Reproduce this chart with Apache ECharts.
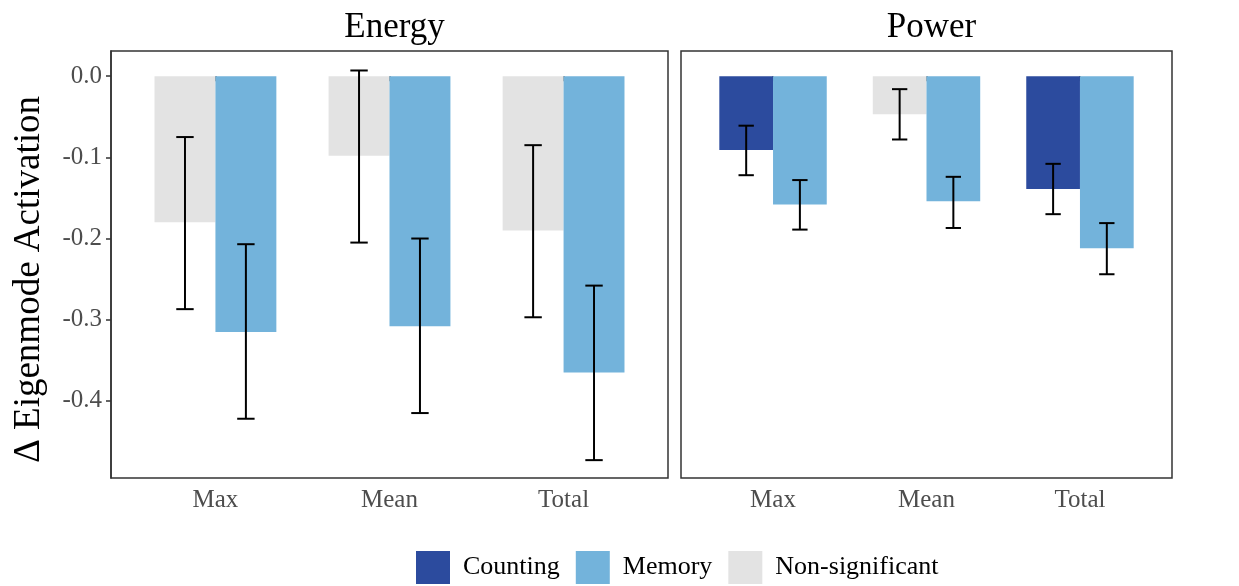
<!DOCTYPE html>
<html>
<head>
<meta charset="utf-8">
<title>Eigenmode Activation</title>
<script src="https://cdn.jsdelivr.net/npm/echarts@6/dist/echarts.min.js"></script>
<style>
	html, body {
		margin: 0;
		padding: 0;
		background: #fff;
	}
	#chart {
		width: 1239px;
		height: 586px;
	}
</style>
</head>
<body>
<div id="chart"></div>
<script>
	// categories / ticks
	const categories = ['Max', 'Mean', 'Total'];
	const yTicks = [0, -0.1, -0.2, -0.3, -0.4];
	const yMin = -0.495;
	const yMax = 0.031;

	// Energy panel
	const energyCountingMean = [-0.180, -0.098, -0.190];
	const energyCountingLow = [-0.287, -0.205, -0.297];
	const energyCountingHigh = [-0.075, 0.007, -0.085];
	const energyCountingSig = [false, false, false];
	const energyMemoryMean = [-0.315, -0.308, -0.365];
	const energyMemoryLow = [-0.422, -0.415, -0.473];
	const energyMemoryHigh = [-0.207, -0.200, -0.258];
	const energyMemorySig = [true, true, true];

	// Power panel
	const powerCountingMean = [-0.091, -0.047, -0.139];
	const powerCountingLow = [-0.122, -0.078, -0.170];
	const powerCountingHigh = [-0.061, -0.016, -0.108];
	const powerCountingSig = [true, false, true];
	const powerMemoryMean = [-0.158, -0.154, -0.212];
	const powerMemoryLow = [-0.189, -0.187, -0.244];
	const powerMemoryHigh = [-0.128, -0.124, -0.181];
	const powerMemorySig = [true, true, true];

	const legendNames = ['Counting', 'Memory', 'Non-significant'];
	const colors = {
		'Counting': '#2c4b9e',
		'Memory': '#73b3db',
		'Non-significant': '#e3e3e3'
	};

	const font = 'Liberation Serif';
	const darkLine = '#333';

	function barData(values, sig, name) {
		return values.map(function (v, i) {
			return {
				value: v,
				itemStyle: { color: sig[i] ? colors[name] : colors['Non-significant'] }
			};
		});
	}

	function errData(low, high) {
		return low.map(function (l, i) {
			return [i, l, high[i]];
		});
	}

	// offset: position of the dodged bar inside the band (in band units)
	function errorSeries(gridIdx, low, high, offset) {
		return {
			type: 'custom',
			xAxisIndex: gridIdx,
			yAxisIndex: gridIdx,
			z: 5,
			silent: true,
			data: errData(low, high),
			encode: { x: 0, y: [1, 2] },
			renderItem: function (params, api) {
				const band = api.size([1, 0])[0];
				const pLow = api.coord([api.value(0), api.value(1)]);
				const pHigh = api.coord([api.value(0), api.value(2)]);
				const x = pLow[0] + offset * band;
				const half = band * 0.05;
				const style = { stroke: '#000', lineWidth: 2 };
				return {
					type: 'group',
					children: [
						{ type: 'line', shape: { x1: x, y1: pLow[1], x2: x, y2: pHigh[1] }, style: style },
						{ type: 'line', shape: { x1: x - half, y1: pLow[1], x2: x + half, y2: pLow[1] }, style: style },
						{ type: 'line', shape: { x1: x - half, y1: pHigh[1], x2: x + half, y2: pHigh[1] }, style: style }
					]
				};
			}
		};
	}

	function xAxisCfg(gridIdx) {
		return {
			type: 'category',
			gridIndex: gridIdx,
			data: categories,
			axisLine: { show: false },
			axisTick: {
				show: true,
				alignWithLabel: true,
				length: 5,
				lineStyle: { color: darkLine, width: 1.5 }
			},
			axisLabel: {
				color: '#4d4d4d',
				fontFamily: font,
				fontSize: 25,
				margin: 10
			},
			splitLine: { show: false }
		};
	}

	const chart = echarts.init(document.getElementById('chart'));

	const option = {
		animation: false,
		backgroundColor: '#fff',
		title: [{
			text: 'Energy',
			left: 389.5,
			top: 5,
			textAlign: 'center',
			textStyle: { color: '#000', fontFamily: font, fontSize: 35, fontWeight: 'normal' }
		}, {
			text: 'Power',
			left: 926.5,
			top: 5,
			textAlign: 'center',
			textStyle: { color: '#000', fontFamily: font, fontSize: 35, fontWeight: 'normal' }
		}],
		legend: {
			left: 416,
			bottom: 2,
			padding: 0,
			itemWidth: 34,
			itemHeight: 33,
			itemGap: 16,
			icon: 'rect',
			selectedMode: false,
			data: legendNames,
			textStyle: {
				color: '#000',
				fontFamily: font,
				fontSize: 26,
				padding: [0, 0, 0, 8]
			}
		},
		grid: [
			// inner grids hold the axes (category band inset like ggplot's expand)
			{ left: 128.4, top: 51, width: 522.2, height: 427 },
			{ left: 696.3, top: 51, width: 460.4, height: 427 },
			// outer grids only draw the panel border
			{ left: 111, top: 51, width: 557, height: 427, show: true, borderColor: darkLine, borderWidth: 1.5, backgroundColor: 'transparent' },
			{ left: 681, top: 51, width: 491, height: 427, show: true, borderColor: darkLine, borderWidth: 1.5, backgroundColor: 'transparent' }
		],
		xAxis: [xAxisCfg(0), xAxisCfg(1)],
		yAxis: [{
			type: 'value',
			gridIndex: 0,
			min: yMin,
			max: yMax,
			offset: 17.4,
			name: 'Δ Eigenmode Activation',
			nameLocation: 'middle',
			nameRotate: 90,
			nameGap: 63,
			nameTextStyle: { color: '#000', fontFamily: font, fontSize: 37, padding: [0, 30, 0, 0] },
			axisLine: { show: true, lineStyle: { color: darkLine, width: 1.5 } },
			axisTick: {
				show: true,
				length: 5,
				customValues: yTicks,
				lineStyle: { color: darkLine, width: 1.5 }
			},
			axisLabel: {
				color: '#4d4d4d',
				fontFamily: font,
				fontSize: 25,
				margin: 9,
				customValues: yTicks,
				formatter: function (v) { return v.toFixed(1); }
			},
			splitLine: { show: false }
		}, {
			type: 'value',
			gridIndex: 1,
			min: yMin,
			max: yMax,
			show: false,
			splitLine: { show: false }
		}],
		series: [
			{
				name: 'Energy counting',
				type: 'bar',
				xAxisIndex: 0,
				yAxisIndex: 0,
				barWidth: '35%',
				barGap: 0,
				data: barData(energyCountingMean, energyCountingSig, 'Counting')
			},
			{
				name: 'Energy memory',
				type: 'bar',
				xAxisIndex: 0,
				yAxisIndex: 0,
				barWidth: '35%',
				barGap: 0,
				data: barData(energyMemoryMean, energyMemorySig, 'Memory')
			},
			{
				name: 'Power counting',
				type: 'bar',
				xAxisIndex: 1,
				yAxisIndex: 1,
				barWidth: '35%',
				barGap: 0,
				data: barData(powerCountingMean, powerCountingSig, 'Counting')
			},
			{
				name: 'Power memory',
				type: 'bar',
				xAxisIndex: 1,
				yAxisIndex: 1,
				barWidth: '35%',
				barGap: 0,
				data: barData(powerMemoryMean, powerMemorySig, 'Memory')
			},
			errorSeries(0, energyCountingLow, energyCountingHigh, -0.175),
			errorSeries(0, energyMemoryLow, energyMemoryHigh, 0.175),
			errorSeries(1, powerCountingLow, powerCountingHigh, -0.175),
			errorSeries(1, powerMemoryLow, powerMemoryHigh, 0.175),
			// empty series, only for the legend swatches
			{ name: 'Counting', type: 'scatter', xAxisIndex: 0, yAxisIndex: 0, data: [], itemStyle: { color: colors['Counting'], opacity: 1 } },
			{ name: 'Memory', type: 'scatter', xAxisIndex: 0, yAxisIndex: 0, data: [], itemStyle: { color: colors['Memory'], opacity: 1 } },
			{ name: 'Non-significant', type: 'scatter', xAxisIndex: 0, yAxisIndex: 0, data: [], itemStyle: { color: colors['Non-significant'], opacity: 1 } }
		]
	};

	chart.setOption(option);
</script>
</body>
</html>
